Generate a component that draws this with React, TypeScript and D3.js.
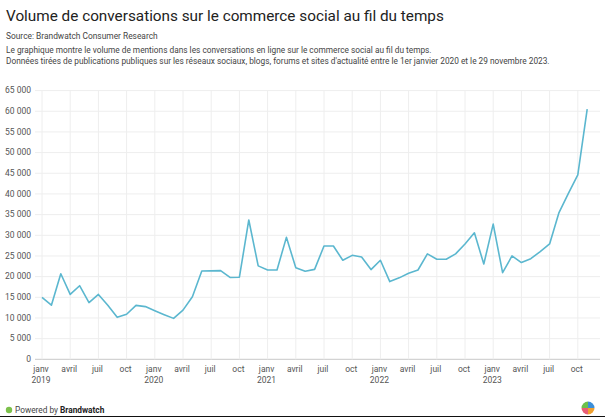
import React from "react";
import * as d3 from "d3";

const W = 605;
const H = 417;

const title = "Volume de conversations sur le commerce social au fil du temps";
const sourceText = "Source: Brandwatch Consumer Research";
const descLines = [
  "Le graphique montre le volume de mentions dans les conversations en ligne sur le commerce social au fil du temps.",
  "Données tirées de publications publiques sur les réseaux sociaux, blogs, forums et sites d'actualité entre le 1er janvier 2020 et le 29 novembre 2023.",
];

const startYear = 2019;
const monthNames = ["janv", "févr", "mars", "avril", "mai", "juin", "juil", "août", "sept", "oct", "nov", "déc"];

const values2019 = [15000, 13100, 20700, 15700, 17800, 13700, 15700, 13050, 10150, 10900, 13050, 12750];
const values2020 = [11750, 10800, 9900, 11900, 15150, 21350, 21400, 21450, 19800, 19850, 33700, 22600];
const values2021 = [21600, 21600, 29500, 22150, 21300, 21750, 27400, 27400, 23950, 25150, 24750, 21700];
const values2022 = [23950, 18800, 19700, 20800, 21600, 25500, 24200, 24200, 25500, 27900, 30600, 23050];
const values2023 = [32700, 20950, 25000, 23400, 24350, 26050, 27900, 35500, 40150, 44600, 60500];

const series = [...values2019, ...values2020, ...values2021, ...values2022, ...values2023];

const yTicks = [0, 5000, 10000, 15000, 20000, 25000, 30000, 35000, 40000, 45000, 50000, 55000, 60000, 65000];
const xTickMonths = d3.range(0, 58, 3);

const fr = d3.formatLocale({ decimal: ",", thousands: "\u00a0", grouping: [3], currency: ["", " €"] });
const fmt = fr.format(",d");

export default function App() {
  const x = d3.scaleLinear().domain([0, 57]).range([42, 577.8]);
  const y = d3.scaleLinear().domain([0, 65000]).range([359.3, 90.6]);
  const line = d3
    .line<number>()
    .x((_, i) => x(i))
    .y((d) => y(d));
  const font = "Roboto, 'Noto Sans', sans-serif";
  const logoColors = ["#3b8fd9", "#f0a030", "#e85d75", "#6cc04a"];
  const pie = d3.pie<number>().sort(null)([1, 1, 1, 1]);
  const arc = d3.arc<d3.PieArcDatum<number>>().innerRadius(0).outerRadius(6.5);

  return (
    <div style={{ position: "absolute", left: 0, top: 0 }}>
      <svg width={W} height={H} style={{ display: "block", background: "#fff", fontFamily: font }}>
        <rect width={W} height={H} fill="#fff" />
        <text x={6} y={21} fontSize={15.3} fill="#222">{title}</text>
        <text x={6} y={39} fontSize={8.4} fill="#444">{sourceText}</text>
        {descLines.map((t, i) => (
          <text key={i} x={6} y={52.5 + i * 11.8} fontSize={8.3} fill="#444">{t}</text>
        ))}

        {/* horizontal grid */}
        {yTicks.map((t) => (
          <g key={t}>
            <line x1={35} x2={600} y1={y(t)} y2={y(t)} stroke={t === 0 ? "#c8c8c8" : "#eeeeee"} strokeWidth={1} />
            <text x={31} y={y(t)} dy="0.33em" textAnchor="end" fontSize={8.5} fill="#555">{fmt(t)}</text>
          </g>
        ))}
        {/* vertical grid + labels */}
        {xTickMonths.map((m) => (
          <g key={m}>
            <line x1={x(m)} x2={x(m)} y1={y(65000)} y2={y(0)} stroke="#eeeeee" strokeWidth={1} />
            <text x={x(m) - 1} y={372} textAnchor="middle" fontSize={8.5} fill="#555">{monthNames[m % 12]}</text>
            {m % 12 === 0 && (
              <text x={x(m) - 1} y={383} textAnchor="middle" fontSize={8.5} fill="#555">{startYear + m / 12}</text>
            )}
          </g>
        ))}

        <path d={line(series) || ""} fill="none" stroke="#5bb7cf" strokeWidth={1.6} strokeLinejoin="round" />

        {/* footer */}
        <circle cx={9} cy={410} r={3.2} fill="#7cc04b" />
        <text x={15} y={413} fontSize={8.3} fill="#444">
          Powered by <tspan fontWeight={700} fill="#222">Brandwatch</tspan>
        </text>
        <g transform="translate(588,408)">
          {pie.map((p, i) => (
            <path key={i} d={arc(p) || ""} fill={logoColors[i]} />
          ))}
        </g>
        <rect x={0} y={416} width={W} height={1} fill="#111" />
      </svg>
    </div>
  );
}
